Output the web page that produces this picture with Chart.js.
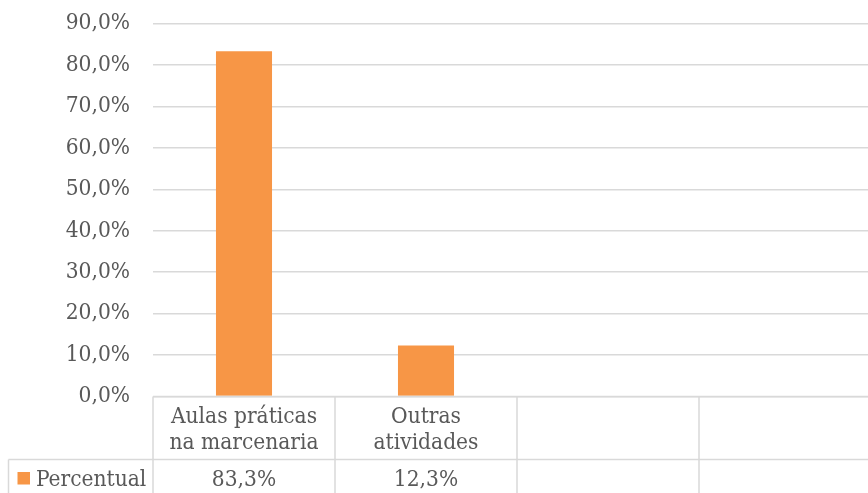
<!DOCTYPE html>
<html>
<head>
<meta charset="utf-8">
<script src="https://cdn.jsdelivr.net/npm/chart.js@4"></script>
<style>
  html, body { margin: 0; padding: 0; background: #ffffff; overflow: hidden; }
  #wrap { position: relative; width: 882px; height: 493px; }
</style>
</head>
<body>
<div id="wrap"><canvas id="c"></canvas></div>
<script>
// ---- data ----
const categories = [["Aulas práticas", "na marcenaria"], ["Outras", "atividades"], "", ""];
const seriesName = "Percentual";
const values = [83.3, 12.3, null, null];
const valueLabels = ["83,3%", "12,3%", "", ""];
const yTickLabels = ["0,0%", "10,0%", "20,0%", "30,0%", "40,0%", "50,0%", "60,0%", "70,0%", "80,0%", "90,0%"];

// ---- styles ----
const BAR = "#F79646";
const GRID = "#d9d9d9";
const TEXT = "#595959";
const FONT_FAMILY = "'DejaVu Serif Condensed', 'DejaVu Serif', serif";
const FONT_SIZE = 22.5;

const tablePlugin = {
  id: "dataTable",
  afterDraw(chart) {
    const ctx = chart.ctx;
    const { left, right, bottom } = chart.chartArea;
    const x = chart.scales.x;
    const n = categories.length;
    const slot = (right - left) / n;
    const rowBottom = bottom + 63;
    const H = chart.height;
    const legendLeft = 8.5;
    ctx.save();
    ctx.strokeStyle = GRID;
    ctx.lineWidth = 1.5;
    const line = (x1, y1, x2, y2) => { ctx.beginPath(); ctx.moveTo(x1, y1); ctx.lineTo(x2, y2); ctx.stroke(); };
    line(left, bottom, right, bottom);
    line(legendLeft, rowBottom, right, rowBottom);
    for (let i = 0; i <= n; i++) {
      const xb = i < n ? x.getPixelForValue(i) - slot / 2 : x.getPixelForValue(n - 1) + slot / 2;
      line(xb, bottom, xb, H);
    }
    line(legendLeft, rowBottom, legendLeft, H);

    ctx.fillStyle = TEXT;
    ctx.font = FONT_SIZE + "px " + FONT_FAMILY;
    ctx.textAlign = "center";
    ctx.textBaseline = "alphabetic";
    categories.forEach((lab, i) => {
      const lines = Array.isArray(lab) ? lab : [lab];
      const cx = x.getPixelForValue(i);
      lines.forEach((t, j) => ctx.fillText(t, cx, bottom + 26.8 + j * 25.8));
      if (valueLabels[i]) ctx.fillText(valueLabels[i], cx, rowBottom + 26.5);
    });
    ctx.fillStyle = BAR;
    ctx.fillRect(17.5, rowBottom + 12.5, 12.5, 12.5);
    ctx.fillStyle = TEXT;
    ctx.textAlign = "left";
    ctx.fillText(seriesName, 36, rowBottom + 26.5);
    ctx.restore();
  }
};

new Chart(document.getElementById("c"), {
  type: "bar",
  data: {
    labels: categories,
    datasets: [{
      label: seriesName,
      data: values,
      backgroundColor: BAR,
      borderWidth: 0,
      categoryPercentage: 1,
      barPercentage: 0.308
    }]
  },
  options: {
    responsive: true,
    maintainAspectRatio: false,
    animation: false,
    layout: { padding: { top: 23.5, bottom: 96.5, left: 0, right: 1 } },
    plugins: { legend: { display: false }, tooltip: { enabled: false } },
    scales: {
      x: { display: false },
      y: {
        min: 0, max: 90,
        afterFit(scale) { scale.width = 153; scale.paddingTop = 0; scale.paddingBottom = 0; },
        border: { display: false },
        grid: { color: GRID, lineWidth: 1.5, drawTicks: false },
        ticks: {
          stepSize: 10,
          padding: 23,
          color: TEXT,
          font: { family: FONT_FAMILY, size: FONT_SIZE },
          callback: (v, i) => yTickLabels[i]
        }
      }
    }
  },
  plugins: [tablePlugin]
});
</script>
</body>
</html>
